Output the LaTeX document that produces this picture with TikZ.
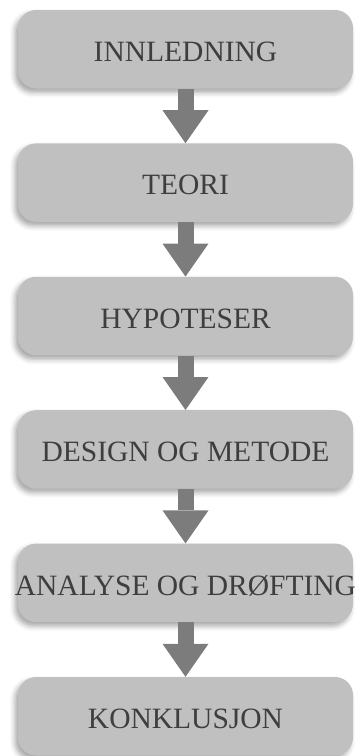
\documentclass[tikz,border=0pt]{standalone}
\usepackage{fontspec}
\setmainfont{Liberation Serif}
\usepackage{xcolor}
\definecolor{boxgray}{RGB}{192,192,192}
\definecolor{arrowgray}{RGB}{124,124,124}
\definecolor{textgray}{RGB}{62,62,62}
\usetikzlibrary{positioning}
\usetikzlibrary{arrows.meta}
\usetikzlibrary{shadows.blur}

\begin{document}
\begin{tikzpicture}[x=1pt, y=1pt, node distance=54.5pt,
  stagebox/.style={rectangle, rounded corners=18pt, fill=boxgray,
    minimum width=335pt, minimum height=78.5pt, inner sep=0pt,
    text=textgray, font=\fontsize{29.5}{30}\selectfont,
    text height=24.5pt, text depth=0pt,
    blur shadow={shadow xshift=-3pt, shadow yshift=-4pt,
      shadow blur radius=5pt, shadow opacity=35}},
  flow/.style={line width=16pt, draw=arrowgray,
    -{Triangle[length=33pt, width=46pt, line width=0pt, fill=arrowgray]}}]

  % frame
  \useasboundingbox (0,0) rectangle (358,-756);

  % stages
  \node[stagebox] (innledning) at (185.5,-49.25) {\makebox[0pt]{INNLEDNING}};
  \node[stagebox, below=of innledning] (teori) {\makebox[0pt]{TEORI}};
  \node[stagebox, below=of teori] (hypoteser) {\makebox[0pt]{HYPOTESER}};
  \node[stagebox, below=of hypoteser] (design) {\makebox[0pt]{DESIGN OG METODE}};
  \node[stagebox, below=of design] (analyse) {\makebox[0pt]{ANALYSE OG DRØFTING}};
  \node[stagebox, below=of analyse] (konklusjon) {\makebox[0pt]{KONKLUSJON}};

  % arrows
  \foreach \a/\b in {innledning/teori, teori/hypoteser, hypoteser/design,
                     design/analyse, analyse/konklusjon}
    \draw[flow] (\a.south) -- (\b.north);

\end{tikzpicture}
\end{document}
